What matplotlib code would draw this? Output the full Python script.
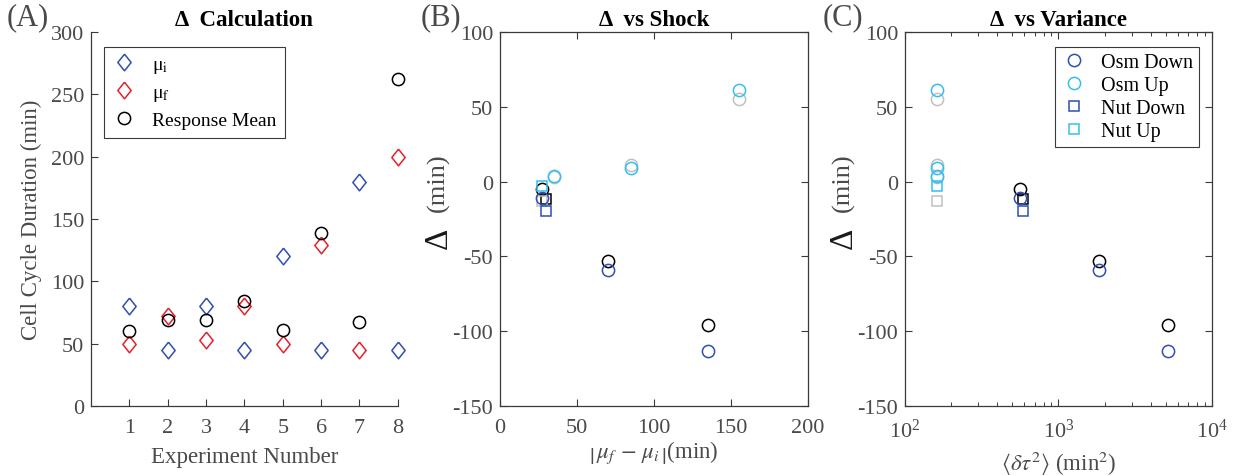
import numpy as np
import matplotlib
matplotlib.use('Agg')
import matplotlib.pyplot as plt

plt.rcParams['font.family'] = ['Liberation Serif', 'DejaVu Serif']
plt.rcParams['mathtext.fontset'] = 'stix'

# ---- Panel A data ----
experiments = [1, 2, 3, 4, 5, 6, 7, 8]
mu_i = [80, 45, 80, 45, 120, 45, 180, 45]
mu_f = [50, 72, 53, 80, 50, 129, 45, 200]
resp_mean = [60, 69, 69, 84, 61, 139, 67, 262]

# ---- Panels B/C data ----
# measured delta (coloured) and model delta (black = down, gray = up)
osm_down_shock = [27, 70, 135]
osm_down_var = [565, 1845, 5190]
osm_down_delta = [-11, -59, -113]
osm_down_model = [-5, -53, -96]

osm_up_shock = [35, 85, 155]
osm_up_var = [161, 161, 161]
osm_up_delta = [3.5, 9, 61.5]
osm_up_model = [3, 11, 55]

nut_down_shock = [30]
nut_down_var = [590]
nut_down_delta = [-19.5]
nut_down_model = [-12]

nut_up_shock = [27]
nut_up_var = [161]
nut_up_delta = [-3]
nut_up_model = [-13]

BLUE = '#2f4fb5'
CYAN = '#35bff0'
GRAY = '#c0c0c0'
RED = '#e8202a'
BLUE_A = '#3050b0'
TXT = '#4a4a4a'
AX = '#3a3a3a'

diamond = [(0, 1), (0.8, 0), (0, -1), (-0.8, 0), (0, 1)]

fig = plt.figure(figsize=(12.42, 4.77), dpi=100)
bot, hgt = 0.147, 0.784
axA = fig.add_axes([0.0733, bot, 0.247, hgt])
axB = fig.add_axes([0.4026, bot, 0.248, hgt])
axC = fig.add_axes([0.7287, bot, 0.247, hgt])


def style(ax, box=True):
    for s in ax.spines.values():
        s.set_color(AX)
        s.set_linewidth(0.9)
    if not box:
        ax.spines['top'].set_visible(False)
        ax.spines['right'].set_visible(False)
    ax.tick_params(direction='in', colors=AX, labelcolor=TXT, labelsize=16,
                   length=5, width=0.8, top=box, right=box)
    ax.tick_params(axis='x', pad=9)
    ax.tick_params(axis='y', pad=5)
    ax.tick_params(which='minor', direction='in', colors=AX, length=3,
                   width=0.7, top=box, right=box)


# (A)
ms_c, ms_s, mew = 8.8, 7.4, 1.1
axA.plot(experiments, mu_i, linestyle='none', marker=diamond, ms=12,
         mfc='none', mec=BLUE_A, mew=mew, label=r'μ$_\mathrm{i}$', clip_on=False)
axA.plot(experiments, mu_f, linestyle='none', marker=diamond, ms=12,
         mfc='none', mec=RED, mew=mew, label=r'μ$_\mathrm{f}$', clip_on=False)
axA.plot(experiments, resp_mean, linestyle='none', marker='o', ms=ms_c,
         mfc='none', mec='black', mew=mew, label='Response Mean', clip_on=False)
axA.set_xlim(0, 8)
axA.set_ylim(0, 300)
axA.set_xticks(experiments)
axA.set_yticks(np.arange(0, 301, 50))
style(axA, box=False)
axA.set_xlabel('Experiment Number', fontsize=16.5, color=TXT, labelpad=6)
axA.set_ylabel('Cell Cycle Duration (min)', fontsize=16.5, color=TXT, labelpad=6)
axA.set_title('Δ  Calculation', fontsize=16.5, fontweight='bold', pad=5)
legA = axA.legend(loc='upper left', bbox_to_anchor=(0.042, 0.96), fontsize=14,
                  fancybox=False, edgecolor=AX, framealpha=1, borderaxespad=0,
                  handlelength=1.2, handletextpad=0.8, borderpad=0.45,
                  labelspacing=0.42)
legA.get_frame().set_linewidth(0.8)


def scatter_panel(ax, key):
    sets = [
        (osm_down_shock, osm_down_var, osm_down_delta, osm_down_model, 'o', BLUE, 'black', 'Osm Down'),
        (osm_up_shock, osm_up_var, osm_up_delta, osm_up_model, 'o', CYAN, GRAY, 'Osm Up'),
        (nut_down_shock, nut_down_var, nut_down_delta, nut_down_model, 's', BLUE, 'black', 'Nut Down'),
        (nut_up_shock, nut_up_var, nut_up_delta, nut_up_model, 's', CYAN, GRAY, 'Nut Up'),
    ]
    handles = []
    for shock, var, delta, model, mk, col, mcol, lab in sets:
        x = shock if key == 'shock' else var
        ms = ms_c if mk == 'o' else ms_s
        ax.plot(x, model, linestyle='none', marker=mk, ms=ms, mfc='none',
                mec=mcol, mew=mew)
    for shock, var, delta, model, mk, col, mcol, lab in sets:
        x = shock if key == 'shock' else var
        ms = ms_c if mk == 'o' else ms_s
        h, = ax.plot(x, delta, linestyle='none', marker=mk, ms=ms, mfc='none',
                     mec=col, mew=mew, label=lab)
        handles.append(h)
    ax.set_ylim(-150, 100)
    ax.set_yticks(np.arange(-150, 101, 50))
    ax.set_yticklabels([str(v) for v in range(-150, 101, 50)])
    style(ax)
    ax.text(-0.2, 0.45, 'Δ', transform=ax.transAxes, rotation=90,
            fontsize=24, color='#1a1a1a', ha='center', va='center')
    ax.text(-0.2, 0.6, '(min)', transform=ax.transAxes, rotation=90,
            fontsize=19, color=TXT, ha='center', va='center')
    return handles


scatter_panel(axB, 'shock')
axB.set_xlim(0, 200)
axB.set_xticks([0, 50, 100, 150, 200])
axB.set_xlabel(r'$\left|\,\mu_f\, -\, \mu_i\,\right|$(min)', fontsize=16.5,
               color=TXT, labelpad=1)
axB.set_title('Δ  vs Shock', fontsize=16.5, fontweight='bold', pad=5)

hC = scatter_panel(axC, 'var')
axC.set_xscale('log')
axC.set_xlim(1e2, 1e4)
axC.set_xlabel(r'$\langle\delta\tau^2\rangle$ (min$^2$)', fontsize=16.5,
               color=TXT, labelpad=5)
axC.set_title('Δ  vs Variance', fontsize=16.5, fontweight='bold', pad=5)
legC = axC.legend(handles=hC, loc='upper right', bbox_to_anchor=(0.958, 0.96),
                  fontsize=14.5, fancybox=False, edgecolor=AX, framealpha=1,
                  borderaxespad=0, handlelength=1.3, handletextpad=0.7,
                  borderpad=0.3, labelspacing=0.2)
legC.get_frame().set_linewidth(0.8)

fig.text(0.005, 0.962, '(A)', fontsize=22, color=TXT, va='center')
fig.text(0.339, 0.962, '(B)', fontsize=22, color=TXT, va='center')
fig.text(0.662, 0.962, '(C)', fontsize=22, color=TXT, va='center')

fig.savefig('out.png', dpi=100)
